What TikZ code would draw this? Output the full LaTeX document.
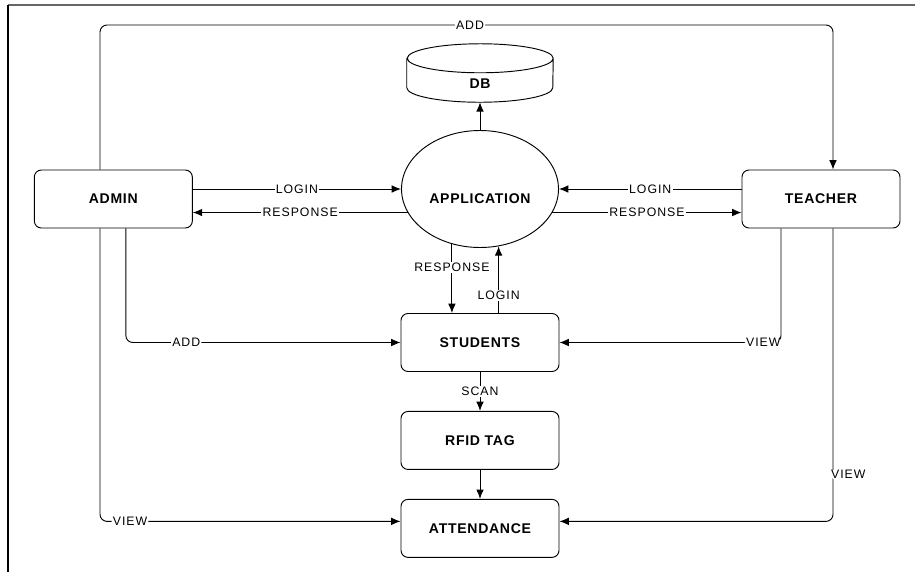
\documentclass[tikz,border=0pt]{standalone}
\usepackage{fontspec}
\newfontfamily\boxfont[LetterSpace=5]{Liberation Sans}
\newfontfamily\flowfont[LetterSpace=8]{Liberation Sans}
\usetikzlibrary{shapes.geometric, arrows.meta, positioning}

\begin{document}
\begin{tikzpicture}[
    node distance=1cm,
    >={Latex[length=8pt,width=6.5pt]},
    every node/.style={align=center},
    box/.style={draw, thick, rounded corners=6pt, minimum width=4.74cm, minimum height=1.74cm, font=\boxfont\bfseries\fontsize{12}{14}\selectfont},
    proc/.style={draw, thick, ellipse, minimum width=4.71cm, minimum height=3.51cm, inner sep=0pt, text height=0.84cm, text depth=0pt, font=\boxfont\bfseries\fontsize{12}{14}\selectfont},
    store/.style={minimum width=4.38cm, minimum height=1.74cm, inner sep=0pt, text height=0.9cm, text depth=0pt, font=\boxfont\bfseries\fontsize{12}{14}\selectfont},
    flow/.style={->, line width=0.8pt},
    lbl/.style={fill=white, inner sep=1pt, font=\flowfont\fontsize{10.5}{12}\selectfont}
  ]

    \useasboundingbox (0,0) rectangle (27.45,-17.16);

    % frame
    \draw[line width=1.4pt, black!60] (0.24,-0.15) -- (27.45,-0.15);
    \draw[line width=1.6pt] (0.24,-0.15) -- (0.24,-17.16);

    % centre column
    \node[proc] (app) at (14.4,-5.67) {APPLICATION};
    \node[store] (db) at (14.4,-2.19) {DB};
    \node[box] (students) at (14.4,-10.275) {STUDENTS};
    \node[box,below=1.17cm of students] (rfid) {RFID TAG};
    \node[box,below=0.87cm of rfid] (attend) {ATTENDANCE};

    % database outline
    \draw[thick] ([yshift=-0.435cm]db.north west) -- ([yshift=0.435cm]db.south west)
      arc[start angle=180, end angle=360, x radius=2.19cm, y radius=0.435cm]
      -- ([yshift=-0.435cm]db.north east)
      arc[start angle=0, end angle=180, x radius=2.19cm, y radius=0.435cm]
      arc[start angle=180, end angle=360, x radius=2.19cm, y radius=0.435cm];

    % users
    \node[box] (admin) at (3.40,-5.97) {ADMIN};
    \node[box] (teacher) at (24.63,-5.97) {TEACHER};

    % login / response
    \draw[flow] (admin.east |- app.west) -- node[lbl]{LOGIN} (app.west);
    \draw[flow] (app.198) -- node[lbl]{RESPONSE} (admin.east |- app.198);
    \draw[flow] (teacher.west |- app.east) -- node[lbl]{LOGIN} (app.east);
    \draw[flow] (app.342) -- node[lbl]{RESPONSE} (teacher.west |- app.342);
    \draw[flow] (app.north) -- (db.south);

    \draw[flow] (app.243) -- node[lbl,pos=0.34]{RESPONSE} (app.243 |- students.north);
    \draw[flow] (app.288 |- students.north) -- node[lbl,pos=0.26]{LOGIN} (app.288);

    % admin adds teacher
    \coordinate (addtop) at (14.1,-0.75);
    \draw[flow, rounded corners=6pt] ([xshift=-0.4cm]admin.north) |- (addtop) node[lbl]{ADD} -| ([xshift=0.36cm]teacher.north);

    % add / view
    \draw[flow, rounded corners=6pt] ([xshift=0.375cm]admin.south) |- node[lbl,pos=0.61]{ADD} (students.west);
    \draw[flow, rounded corners=6pt] ([xshift=-0.4cm]admin.south) |- node[lbl,pos=0.55]{VIEW} ([yshift=0.21cm]attend.west);
    \draw[flow, rounded corners=6pt] ([xshift=-1.2cm]teacher.south) |- node[lbl,pos=0.54]{VIEW} (students.east);
    \draw[flow, rounded corners=6pt] ([xshift=0.36cm]teacher.south) |- node[lbl,pos=0.42,anchor=west,xshift=-3pt]{VIEW} ([yshift=0.21cm]attend.east);

    % scan
    \draw[flow] (students.south) -- node[lbl]{SCAN} (rfid.north);
    \draw[flow] (rfid.south) -- (attend.north);

\end{tikzpicture}
\end{document}
